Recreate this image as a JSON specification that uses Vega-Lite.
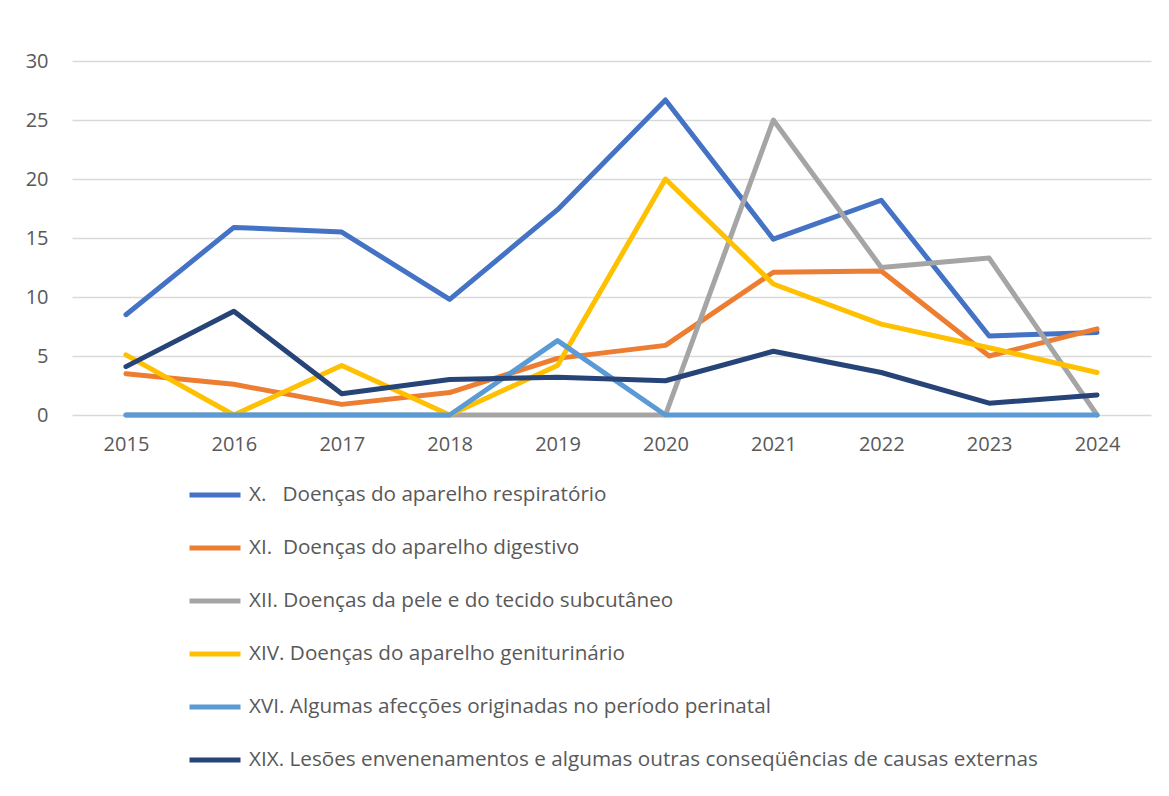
{
  "$schema": "https://vega.github.io/schema/vega-lite/v6.json",
  "width": 1079,
  "height": 354,
  "autosize": {"type": "none"},
  "padding": {"left": 72, "top": 61, "right": 18, "bottom": 381},
  "background": "white",
  "config": {
    "font": "Open Sans",
    "view": {"stroke": null}
  },
  "data": {
    "values": [
      {"year": "2015", "series": "X.\u00a0\u00a0\u00a0Doenças do aparelho respiratório", "value": 8.5},
      {"year": "2016", "series": "X.\u00a0\u00a0\u00a0Doenças do aparelho respiratório", "value": 15.9},
      {"year": "2017", "series": "X.\u00a0\u00a0\u00a0Doenças do aparelho respiratório", "value": 15.5},
      {"year": "2018", "series": "X.\u00a0\u00a0\u00a0Doenças do aparelho respiratório", "value": 9.8},
      {"year": "2019", "series": "X.\u00a0\u00a0\u00a0Doenças do aparelho respiratório", "value": 17.4},
      {"year": "2020", "series": "X.\u00a0\u00a0\u00a0Doenças do aparelho respiratório", "value": 26.7},
      {"year": "2021", "series": "X.\u00a0\u00a0\u00a0Doenças do aparelho respiratório", "value": 14.9},
      {"year": "2022", "series": "X.\u00a0\u00a0\u00a0Doenças do aparelho respiratório", "value": 18.2},
      {"year": "2023", "series": "X.\u00a0\u00a0\u00a0Doenças do aparelho respiratório", "value": 6.7},
      {"year": "2024", "series": "X.\u00a0\u00a0\u00a0Doenças do aparelho respiratório", "value": 7.0},
      {"year": "2015", "series": "XI.\u00a0\u00a0Doenças do aparelho digestivo", "value": 3.5},
      {"year": "2016", "series": "XI.\u00a0\u00a0Doenças do aparelho digestivo", "value": 2.6},
      {"year": "2017", "series": "XI.\u00a0\u00a0Doenças do aparelho digestivo", "value": 0.9},
      {"year": "2018", "series": "XI.\u00a0\u00a0Doenças do aparelho digestivo", "value": 1.9},
      {"year": "2019", "series": "XI.\u00a0\u00a0Doenças do aparelho digestivo", "value": 4.8},
      {"year": "2020", "series": "XI.\u00a0\u00a0Doenças do aparelho digestivo", "value": 5.9},
      {"year": "2021", "series": "XI.\u00a0\u00a0Doenças do aparelho digestivo", "value": 12.1},
      {"year": "2022", "series": "XI.\u00a0\u00a0Doenças do aparelho digestivo", "value": 12.2},
      {"year": "2023", "series": "XI.\u00a0\u00a0Doenças do aparelho digestivo", "value": 5.0},
      {"year": "2024", "series": "XI.\u00a0\u00a0Doenças do aparelho digestivo", "value": 7.3},
      {"year": "2015", "series": "XII. Doenças da pele e do tecido subcutâneo", "value": 0},
      {"year": "2016", "series": "XII. Doenças da pele e do tecido subcutâneo", "value": 0},
      {"year": "2017", "series": "XII. Doenças da pele e do tecido subcutâneo", "value": 0},
      {"year": "2018", "series": "XII. Doenças da pele e do tecido subcutâneo", "value": 0},
      {"year": "2019", "series": "XII. Doenças da pele e do tecido subcutâneo", "value": 0},
      {"year": "2020", "series": "XII. Doenças da pele e do tecido subcutâneo", "value": 0},
      {"year": "2021", "series": "XII. Doenças da pele e do tecido subcutâneo", "value": 25.0},
      {"year": "2022", "series": "XII. Doenças da pele e do tecido subcutâneo", "value": 12.5},
      {"year": "2023", "series": "XII. Doenças da pele e do tecido subcutâneo", "value": 13.3},
      {"year": "2024", "series": "XII. Doenças da pele e do tecido subcutâneo", "value": 0},
      {"year": "2015", "series": "XIV. Doenças do aparelho geniturinário", "value": 5.1},
      {"year": "2016", "series": "XIV. Doenças do aparelho geniturinário", "value": 0},
      {"year": "2017", "series": "XIV. Doenças do aparelho geniturinário", "value": 4.2},
      {"year": "2018", "series": "XIV. Doenças do aparelho geniturinário", "value": 0},
      {"year": "2019", "series": "XIV. Doenças do aparelho geniturinário", "value": 4.2},
      {"year": "2020", "series": "XIV. Doenças do aparelho geniturinário", "value": 20.0},
      {"year": "2021", "series": "XIV. Doenças do aparelho geniturinário", "value": 11.1},
      {"year": "2022", "series": "XIV. Doenças do aparelho geniturinário", "value": 7.7},
      {"year": "2023", "series": "XIV. Doenças do aparelho geniturinário", "value": 5.7},
      {"year": "2024", "series": "XIV. Doenças do aparelho geniturinário", "value": 3.6},
      {"year": "2015", "series": "XVI. Algumas afecções originadas no período perinatal", "value": 0},
      {"year": "2016", "series": "XVI. Algumas afecções originadas no período perinatal", "value": 0},
      {"year": "2017", "series": "XVI. Algumas afecções originadas no período perinatal", "value": 0},
      {"year": "2018", "series": "XVI. Algumas afecções originadas no período perinatal", "value": 0},
      {"year": "2019", "series": "XVI. Algumas afecções originadas no período perinatal", "value": 6.3},
      {"year": "2020", "series": "XVI. Algumas afecções originadas no período perinatal", "value": 0},
      {"year": "2021", "series": "XVI. Algumas afecções originadas no período perinatal", "value": 0},
      {"year": "2022", "series": "XVI. Algumas afecções originadas no período perinatal", "value": 0},
      {"year": "2023", "series": "XVI. Algumas afecções originadas no período perinatal", "value": 0},
      {"year": "2024", "series": "XVI. Algumas afecções originadas no período perinatal", "value": 0},
      {"year": "2015", "series": "XIX. Lesões envenenamentos e algumas outras conseqüências de causas externas", "value": 4.1},
      {"year": "2016", "series": "XIX. Lesões envenenamentos e algumas outras conseqüências de causas externas", "value": 8.8},
      {"year": "2017", "series": "XIX. Lesões envenenamentos e algumas outras conseqüências de causas externas", "value": 1.8},
      {"year": "2018", "series": "XIX. Lesões envenenamentos e algumas outras conseqüências de causas externas", "value": 3.0},
      {"year": "2019", "series": "XIX. Lesões envenenamentos e algumas outras conseqüências de causas externas", "value": 3.2},
      {"year": "2020", "series": "XIX. Lesões envenenamentos e algumas outras conseqüências de causas externas", "value": 2.9},
      {"year": "2021", "series": "XIX. Lesões envenenamentos e algumas outras conseqüências de causas externas", "value": 5.4},
      {"year": "2022", "series": "XIX. Lesões envenenamentos e algumas outras conseqüências de causas externas", "value": 3.6},
      {"year": "2023", "series": "XIX. Lesões envenenamentos e algumas outras conseqüências de causas externas", "value": 1.0},
      {"year": "2024", "series": "XIX. Lesões envenenamentos e algumas outras conseqüências de causas externas", "value": 1.7}
    ]
  },
  "mark": {"type": "line", "strokeWidth": 5, "strokeCap": "round", "strokeJoin": "round"},
  "encoding": {
    "x": {
      "field": "year",
      "type": "ordinal",
      "scale": {"type": "point", "padding": 0.5},
      "axis": {
        "title": null,
        "labelAngle": 0,
        "labelFontSize": 20,
        "labelColor": "#595959",
        "labelPadding": 19,
        "ticks": false,
        "domain": false,
        "grid": false
      }
    },
    "y": {
      "field": "value",
      "type": "quantitative",
      "scale": {"domain": [0, 30], "nice": false},
      "axis": {
        "title": null,
        "values": [0, 5, 10, 15, 20, 25, 30],
        "labelFontSize": 20,
        "labelColor": "#595959",
        "labelPadding": 24,
        "ticks": false,
        "domain": false,
        "grid": true,
        "gridColor": "#D9D9D9",
        "gridWidth": 1.5
      }
    },
    "color": {
      "field": "series",
      "type": "nominal",
      "scale": {
        "domain": [
          "X.\u00a0\u00a0\u00a0Doenças do aparelho respiratório",
          "XI.\u00a0\u00a0Doenças do aparelho digestivo",
          "XII. Doenças da pele e do tecido subcutâneo",
          "XIV. Doenças do aparelho geniturinário",
          "XVI. Algumas afecções originadas no período perinatal",
          "XIX. Lesões envenenamentos e algumas outras conseqüências de causas externas"
        ],
        "range": ["#4472C4", "#ED7D31", "#A5A5A5", "#FFC000", "#5B9BD5", "#264478"]
      },
      "legend": {
        "title": null,
        "orient": "none",
        "legendX": 115,
        "legendY": 406,
        "direction": "vertical",
        "columns": 1,
        "symbolType": "stroke",
        "symbolSize": 2601,
        "symbolStrokeWidth": 5,
        "labelFontSize": 20.7,
        "labelColor": "#595959",
        "labelOffset": 6,
        "labelLimit": 1000,
        "rowPadding": 15
      }
    }
  }
}
